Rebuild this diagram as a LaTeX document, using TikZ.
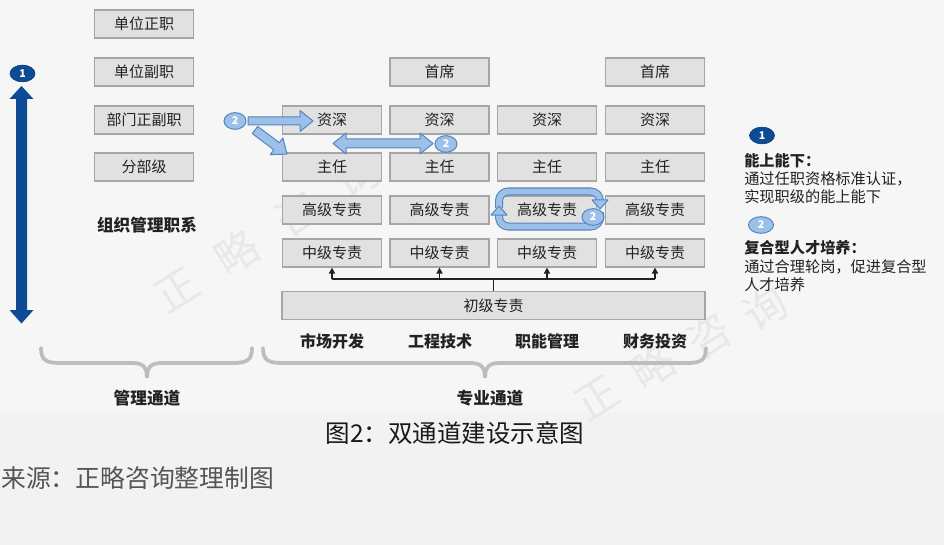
\documentclass[tikz,border=0pt]{standalone}
\usepackage{fontspec}
\setmainfont{Noto Sans CJK SC}
\usetikzlibrary{shapes.geometric,arrows.meta}
\definecolor{bgtop}{HTML}{F6F6F6}
\definecolor{bgbot}{HTML}{F2F2F2}
\definecolor{boxfill}{HTML}{E1E1E1}
\definecolor{boxline}{HTML}{A6A6A6}
\definecolor{txt}{HTML}{222222}
\definecolor{navy}{HTML}{0D4B94}
\definecolor{lblue}{HTML}{9DC0E8}
\definecolor{lbline}{HTML}{5585C0}
\definecolor{bracec}{HTML}{BDBDBD}
\definecolor{wmc}{HTML}{E8E8E8}
\definecolor{srcc}{HTML}{555555}
\begin{document}
\begin{tikzpicture}[x=0.75pt,y=-0.75pt,
  lvl/.style={draw=boxline, fill=boxfill, line width=0.8pt, minimum width=74.25pt,
    minimum height=21pt, inner sep=0pt, text=txt, font=\fontsize{11.25}{13}\selectfont},
  wide/.style={lvl, minimum width=317.25pt},
  colhd/.style={inner sep=0pt, text=txt, font=\bfseries\fontsize{12}{14}\selectfont},
  lg/.style={inner sep=0pt, anchor=west, text=txt, font=\fontsize{11.4}{13}\selectfont},
  lgb/.style={lg, font=\bfseries\fontsize{11.4}{13}\selectfont},
  mkone/.style={ellipse, fill=navy, draw=navy!80!black, line width=0.5pt, minimum width=18.75pt,
    minimum height=12.5pt, inner sep=0pt, text=white, font=\bfseries\fontsize{8}{8}\selectfont},
  mktwo/.style={ellipse, fill=lblue, draw=lbline, line width=0.75pt, minimum width=16.5pt,
    minimum height=12.5pt, inner sep=0pt, text=white, font=\bfseries\fontsize{8}{8}\selectfont},
  blk/.style={fill=lblue, draw=lbline, line width=0.75pt, line join=round},
  conn/.style={draw=txt, line width=1.1pt},
  brc/.style={draw=bracec, line width=2.8pt, line cap=round},
  wmark/.style={text=wmc, font=\fontsize{32}{32}\selectfont, inner sep=0pt, rotate=32}
]
\useasboundingbox (0,0) rectangle (944,545);
\fill[bgtop] (0,0) rectangle (944,413);
\fill[bgbot] (0,413) rectangle (944,545);

% watermarks
\node[wmark] (wa1) at (177,290) {正};
\node[wmark] (wa2) at (237,252) {略};
\node[wmark] (wa3) at (297,214) {咨};
\node[wmark] (wa4) at (357,176) {询};
\node[wmark] (wb1) at (597,398) {正};
\node[wmark] (wb2) at (653,366) {略};
\node[wmark] (wb3) at (709,336) {咨};
\node[wmark] (wb4) at (765,308) {询};

% management ladder
\node[lvl] (m1) at (144,24) {单位正职};
\node[lvl] (m2) at (144,72) {单位副职};
\node[lvl] (m3) at (144,120) {部门正副职};
\node[lvl] (m4) at (144,167) {分部级};
\node[colhd, font=\bfseries\fontsize{12.5}{14}\selectfont] (org) at (147,225) {组织管理职系};

% professional ladder
\node[lvl] (s2) at (439.5,72) {首席};
\node[lvl] (s4) at (655,72) {首席};
\node[lvl] (z1) at (332,120) {资深};
\node[lvl] (z2) at (439.5,120) {资深};
\node[lvl] (z3) at (547,120) {资深};
\node[lvl] (z4) at (655,120) {资深};
\node[lvl] (r1) at (332,167) {主任};
\node[lvl] (r2) at (439.5,167) {主任};
\node[lvl] (r3) at (547,167) {主任};
\node[lvl] (r4) at (655,167) {主任};
\node[lvl] (g1) at (332,210) {高级专责};
\node[lvl] (g2) at (439.5,210) {高级专责};
\node[lvl] (g3) at (547,210) {高级专责};
\node[lvl] (g4) at (655,210) {高级专责};
\node[lvl] (q1) at (332,253) {中级专责};
\node[lvl] (q2) at (439.5,253) {中级专责};
\node[lvl] (q3) at (547,253) {中级专责};
\node[lvl] (q4) at (655,253) {中级专责};
\node[wide] (cj) at (493.5,305.5) {初级专责};

% connectors
\draw[conn] (cj.north) -- ++(0,-12) coordinate (jn);
\draw[conn] (q1.south |- jn) -- (q4.south |- jn);
\foreach \q in {q1,q2,q3,q4}{
  \draw[conn, -{Triangle[length=4.5pt,width=4.5pt]}] (\q.south |- jn) -- (\q.south);
}

% column headers
\node[colhd] (h1) at (332,341) {市场开发};
\node[colhd] (h2) at (440,341) {工程技术};
\node[colhd] (h3) at (547,341) {职能管理};
\node[colhd] (h4) at (655,341) {财务投资};

% braces
\draw[brc] (41,348) .. controls (41,360) and (46,363) .. (60,363) -- (132,363)
  .. controls (142,363) and (147,366) .. (147,378)
  .. controls (147,366) and (152,363) .. (162,363) -- (233,363)
  .. controls (247,363) and (252,360) .. (252,348);
\draw[brc] (263,348) .. controls (263,360) and (268,363) .. (282,363) -- (470,363)
  .. controls (480,363) and (485,366) .. (485,378)
  .. controls (485,366) and (490,363) .. (500,363) -- (687,363)
  .. controls (701,363) and (706,360) .. (706,348);
\node[colhd, font=\bfseries\fontsize{12.5}{14}\selectfont] (t1) at (147,398) {管理通道};
\node[colhd, font=\bfseries\fontsize{12.5}{14}\selectfont] (t2) at (490,398) {专业通道};

% big up/down arrow
\fill[navy] (16,99) -- (9.5,99) -- (21.5,86) -- (33.5,99) -- (27,99) -- (27,310)
  -- (33.5,310) -- (21.5,323.5) -- (9.5,310) -- (16,310) -- cycle;
\node[mkone] (one) at (22.5,73.5) {1};

% light blue arrows
\draw[blk] (248,117) -- (300,117) -- (300,110.5) -- (313,121) -- (300,131.5) -- (300,125) -- (248,125) -- cycle;
\begin{scope}[shift={(255,130)}, rotate=-37]
  \draw[blk] (0,-4.5) -- (27,-4.5) -- (27,-10.5) -- (40,0) -- (27,10.5) -- (27,4.5) -- (0,4.5) -- cycle;
\end{scope}
\draw[blk] (333,143.5) -- (346,133) -- (346,139) -- (420,139) -- (420,133) -- (433,143.5)
  -- (420,154) -- (420,148) -- (346,148) -- (346,154) -- cycle;

% loop around g3
\draw[lbline, line width=6pt, rounded corners=7pt] (499,208) -- (499,191.5) -- (600,191.5) -- (600,200);
\draw[lblue, line width=4.4pt, rounded corners=7pt] (499,208) -- (499,191.5) -- (600,191.5) -- (600,200.5);
\draw[lbline, line width=6pt, rounded corners=7pt] (600,212) -- (600,226.5) -- (499,226.5) -- (499,215);
\draw[lblue, line width=4.4pt, rounded corners=7pt] (600,212) -- (600,226.5) -- (499,226.5) -- (499,214.5);
\draw[blk] (592,200) -- (608,200) -- (600,209) -- cycle;
\draw[blk] (491,215) -- (507,215) -- (499,206) -- cycle;

\node[mktwo] (two1) at (235,121) {2};
\node[mktwo] (two2) at (446,144) {2};
\node[mktwo] (two3) at (593,217) {2};

% legend
\node[mkone] (lg1) at (762,135.5) {1};
\node[lgb] (l1t) at (744,161) {能上能下：};
\node[lg] (l1a) at (744,179) {通过任职资格标准认证，};
\node[lg] (l1b) at (744,197) {实现职级的能上能下};
\node[mktwo, minimum width=18.75pt] (lg2) at (761,225) {2};
\node[lgb] (l2t) at (744,248) {复合型人才培养：};
\node[lg] (l2a) at (744,267) {通过合理轮岗，促进复合型};
\node[lg] (l2b) at (744,285) {人才培养};

% caption & source
\node[inner sep=0pt, text=black!90, font=\fontsize{18.4}{20}\selectfont] (cap) at (455,433) {图2：双通道建设示意图};
\node[inner sep=0pt, anchor=west, text=srcc, font=\fontsize{18.6}{20}\selectfont] (src) at (1,478) {来源：正略咨询整理制图};
\end{tikzpicture}
\end{document}
